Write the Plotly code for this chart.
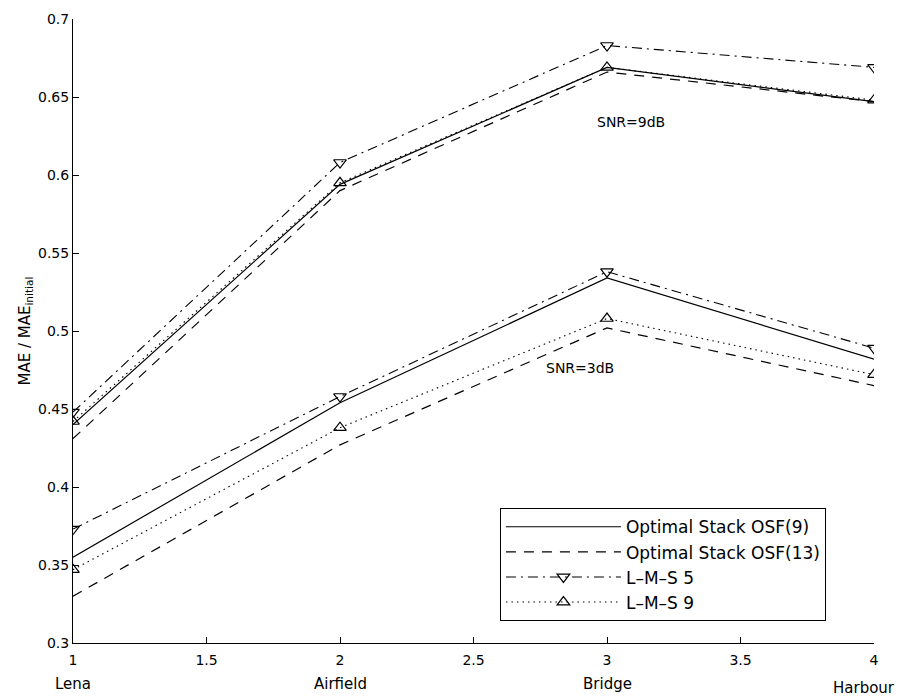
import plotly.graph_objects as go

x = [1, 2, 3, 4]
images = ["Lena", "Airfield", "Bridge", "Harbour"]

# SNR = 9 dB
osf9_9db = [0.440, 0.594, 0.669, 0.647]
osf13_9db = [0.431, 0.590, 0.666, 0.647]
lms5_9db = [0.448, 0.608, 0.683, 0.669]
lms9_9db = [0.442, 0.595, 0.669, 0.648]

# SNR = 3 dB
osf9_3db = [0.355, 0.454, 0.534, 0.482]
osf13_3db = [0.330, 0.427, 0.502, 0.465]
lms5_3db = [0.373, 0.458, 0.538, 0.489]
lms9_3db = [0.347, 0.438, 0.508, 0.472]

xticks = [1, 1.5, 2, 2.5, 3, 3.5, 4]
yticks = [0.3, 0.35, 0.4, 0.45, 0.5, 0.55, 0.6, 0.65, 0.7]

FONT = "DejaVu Sans, Liberation Sans, Arial, sans-serif"

fig = go.Figure()

styles = {
    "osf9": dict(line=dict(color="black", width=1.2, dash="solid"), mode="lines"),
    "osf13": dict(line=dict(color="black", width=1.2, dash="10px,8px"), mode="lines"),
    "lms5": dict(line=dict(color="black", width=1.1, dash="10px,5px,2px,5px"), mode="lines+markers",
                 marker=dict(symbol="triangle-down-open", size=11, color="black", line=dict(width=1.2))),
    "lms9": dict(line=dict(color="black", width=1.1, dash="1.5px,4px"), mode="lines+markers",
                 marker=dict(symbol="triangle-up-open", size=11, color="black", line=dict(width=1.2))),
}
names = {"osf9": "Optimal Stack OSF(9)", "osf13": "Optimal Stack OSF(13)",
         "lms5": "L\u2013M\u2013S 5", "lms9": "L\u2013M\u2013S 9"}

for key, y9, y3 in [("osf9", osf9_9db, osf9_3db), ("osf13", osf13_9db, osf13_3db),
                    ("lms5", lms5_9db, lms5_3db), ("lms9", lms9_9db, lms9_3db)]:
    fig.add_trace(go.Scatter(x=x, y=y9, name=names[key], legendgroup=key, showlegend=True, **styles[key]))
    fig.add_trace(go.Scatter(x=x, y=y3, name=names[key], legendgroup=key, showlegend=False, **styles[key]))

for xi, lab in zip(x, images):
    harb = lab == "Harbour"
    fig.add_annotation(x=xi, y=0, xref="x", yref="paper", yanchor="middle",
                       yshift=-45 if harb else -41, xshift=-10 if harb else 0,
                       text=lab, showarrow=False, font=dict(size=15, color="black", family=FONT))

fig.add_annotation(x=3.09, y=0.634, text="SNR=9dB", showarrow=False,
                   font=dict(size=14, color="black", family=FONT))
fig.add_annotation(x=2.90, y=0.476, text="SNR=3dB", showarrow=False,
                   font=dict(size=14, color="black", family=FONT))

# y-axis title
fig.add_annotation(x=0, y=0.5, xref="paper", yref="paper", xshift=-60, textangle=-90,
                   text="MAE / MAE<sub>initial</sub>", showarrow=False,
                   font=dict(size=15, color="black", family=FONT))

fig.update_layout(
    width=899, height=688,
    margin=dict(l=65, r=33, t=11, b=53, autoexpand=False),
    plot_bgcolor="white", paper_bgcolor="white",
    font=dict(family=FONT, size=14, color="black"),
    showlegend=True,
    legend=dict(x=0.533, y=0.216, xanchor="left", yanchor="top",
                bordercolor="black", borderwidth=1, bgcolor="white",
                font=dict(size=17, family=FONT), itemwidth=115, tracegroupgap=0),
)
fig.update_xaxes(range=[1, 4], tickvals=xticks, ticktext=[f"{t:g}" for t in xticks],
                 showline=True, linecolor="black", linewidth=1, ticks="inside", ticklen=6,
                 tickcolor="black", showgrid=False, zeroline=False, tickfont=dict(size=14),
                 automargin=False, ticklabelstandoff=4)
fig.update_yaxes(range=[0.3, 0.7], tickvals=yticks, ticktext=[f"{t:g}" for t in yticks],
                 showline=True, linecolor="black", linewidth=1, ticks="inside", ticklen=6,
                 tickcolor="black", showgrid=False, zeroline=False, tickfont=dict(size=14),
                 automargin=False)

fig.write_html("out.html")
